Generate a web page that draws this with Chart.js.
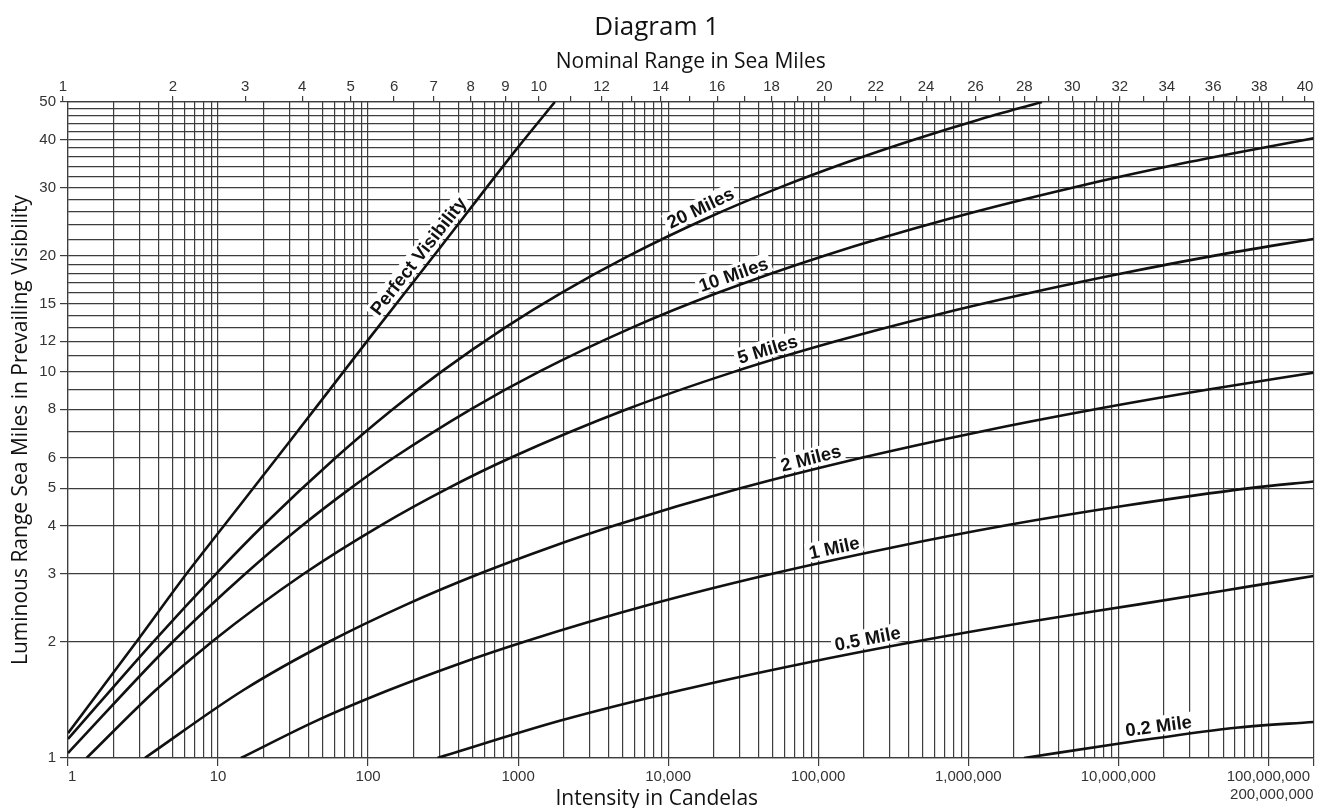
<!DOCTYPE html>
<html>
<head>
<meta charset="utf-8">
<title>Diagram 1</title>
<script src="https://cdn.jsdelivr.net/npm/chart.js@4.4.0/dist/chart.umd.min.js"></script>
<style>
  html, body { margin: 0; padding: 0; background: #fff; }
  #wrap { width: 1319px; height: 808px; }
</style>
</head>
<body>
<div id="wrap"><canvas id="chart"></canvas></div>
<script>
// luminous range curves, [intensity in candelas, luminous range in sea miles]
const perfectVisibility = [[1, 1.16], [2.86, 2], [6.16, 3], [10, 3.82], [30, 6.6], [100, 12.1], [300, 20.9], [1000, 38.2], [1757, 50]];
const miles20 = [[1, 1.12], [3.7, 2], [9.7, 3], [20, 4], [61, 6], [146, 8], [307, 10], [813, 13], [1930, 16], [5490, 20], [18100, 25], [55200, 30], [159000, 35], [439000, 40], [1175000, 45], [3100000, 50]];
const miles10 = [[1, 1.03], [5, 2], [15.2, 3], [36.4, 4], [76.7, 5], [149, 6], [483, 8], [1372, 10], [5690, 13], [21200, 16], [109800, 20], [767000, 25], [4940000, 30], [30100000, 35], [200000000, 40.3]];
const miles5 = [[1.33, 1], [3.85, 1.5], [9.1, 2], [37.3, 3], [121, 4], [343, 5], [899, 6], [5300, 8], [27400, 10], [131000, 12], [591000, 14], [2560000, 16], [10700000, 18], [43900000, 20], [200000000, 22.1]];
const miles2 = [[3.25, 1], [14.8, 1.5], [54.9, 2], [181, 2.5], [552, 3], [1590, 3.5], [4390, 4], [30700, 5], [198000, 6], [1200000, 7], [7020000, 8], [39800000, 9], [200000000, 9.95]];
const miles1 = [[14.2, 1], [45.5, 1.25], [138, 1.5], [397, 1.75], [1100, 2], [7670, 2.5], [49400, 3], [301000, 3.5], [1760000, 4], [11000000, 4.5], [75500000, 5], [200000000, 5.2]];
const miles05 = [[290, 1], [1920, 1.25], [12300, 1.5], [75200, 1.75], [439000, 2], [2490000, 2.25], [13700000, 2.5], [70000000, 2.77], [200000000, 2.96]];
const miles02 = [[2350000, 1], [11900000, 1.1], [63200000, 1.2], [200000000, 1.24]];

const series = [perfectVisibility, miles20, miles10, miles5, miles2, miles1, miles05, miles02];
const seriesNames = ['Perfect Visibility', '20 Miles', '10 Miles', '5 Miles', '2 Miles', '1 Mile', '0.5 Mile', '0.2 Mile'];
// candela value on each curve where its name is written
const labelAnchors = [250, 17800, 29000, 48400, 93500, 133000, 221000, 19000000];

const xMajorTicks = [1, 10, 100, 1000, 10000, 100000, 1000000, 10000000, 100000000, 200000000];
const xTickLabels = ['1', '10', '100', '1000', '10,000', '100,000', '1,000,000', '10,000,000', '100,000,000', '200,000,000'];
const yGridValues = [1, 2, 3, 4, 5, 6, 7, 8, 9, 10, 11, 12, 13, 14, 15, 16, 17, 18, 19, 20, 22, 24, 26, 28, 30, 32, 34, 36, 38, 40, 42, 44, 46, 48, 50];
const yTickLabels = [1, 2, 3, 4, 5, 6, 8, 10, 12, 15, 20, 30, 40, 50];
const nominalRanges = [1, 2, 3, 4, 5, 6, 7, 8, 9, 10, 11, 12, 13, 14, 15, 16, 17, 18, 19, 20, 21, 22, 23, 24, 25, 26, 27, 28, 29, 30, 31, 32, 33, 34, 35, 36, 37, 38, 39, 40];
const nominalLabels = [1, 2, 3, 4, 5, 6, 7, 8, 9, 10, 12, 14, 16, 18, 20, 22, 24, 26, 28, 30, 32, 34, 36, 38, 40];

// nominal range = luminous range when the meteorological visibility is 10 miles
function nominalToCandela(d) {
  return 0.686 * d * d * Math.pow(20, d / 10);
}

const GRID = '#3d3d3d';
const tickFont = { family: '"Liberation Sans", Arial, sans-serif', size: 15 };
const titleFamily = '"Open Sans", "Noto Sans", sans-serif';

const curveLabels = {
  id: 'curveLabels',
  afterDatasetsDraw(chart) {
    const ctx = chart.ctx;
    const xs = chart.scales.x, ys = chart.scales.y;
    ctx.save();
    ctx.font = 'bold 18.5px "Liberation Sans", Arial, sans-serif';
    ctx.textAlign = 'center';
    ctx.textBaseline = 'middle';
    labelAnchors.forEach((at, i) => {
      const pts = series[i];
      let k = 0;
      while (k < pts.length - 2 && pts[k + 1][0] < at) k++;
      const x0 = xs.getPixelForValue(pts[k][0]), y0 = ys.getPixelForValue(pts[k][1]);
      const x1 = xs.getPixelForValue(pts[k + 1][0]), y1 = ys.getPixelForValue(pts[k + 1][1]);
      const px = xs.getPixelForValue(at);
      const py = y0 + (px - x0) / (x1 - x0) * (y1 - y0);
      const w = ctx.measureText(seriesNames[i]).width;
      ctx.save();
      ctx.translate(px, py);
      ctx.rotate(Math.atan2(y1 - y0, x1 - x0));
      ctx.translate(0, -12);
      ctx.fillStyle = '#fff';
      ctx.fillRect(-w / 2 - 3, -10, w + 6, 19);
      ctx.fillStyle = '#111';
      ctx.fillText(seriesNames[i], 0, 1);
      ctx.restore();
    });
    ctx.restore();
  }
};

new Chart(document.getElementById('chart'), {
  type: 'line',
  data: {
    datasets: series.map((s, i) => ({
      label: seriesNames[i],
      data: s.map(p => ({ x: p[0], y: p[1] })),
      borderColor: '#111',
      borderWidth: 2.6,
      pointRadius: 0,
      cubicInterpolationMode: 'monotone',
      fill: false
    }))
  },
  options: {
    responsive: true,
    maintainAspectRatio: false,
    animation: false,
    layout: { padding: { right: 5.5 } },
    plugins: {
      legend: { display: false },
      tooltip: { enabled: false },
      title: {
        display: true,
        text: 'Diagram 1',
        color: '#111',
        font: { family: titleFamily, size: 26, weight: 'normal', lineHeight: 1.2 },
        padding: { top: 12, bottom: 0 }
      },
      // zero-height box: the text hangs into the bottom axis area
      subtitle: {
        display: true,
        position: 'bottom',
        text: 'Intensity in Candelas',
        color: '#111',
        font: { family: titleFamily, size: 21, weight: 'normal', lineHeight: 1 },
        padding: { top: -19, bottom: -2 }
      }
    },
    scales: {
      x: {
        type: 'logarithmic',
        position: 'bottom',
        min: 1,
        max: 200000000,
        afterBuildTicks(scale) {
          const t = [];
          for (let p = 0; p < 8; p++) {
            for (let m = 1; m < 10; m++) t.push({ value: m * Math.pow(10, p) });
          }
          t.push({ value: 100000000 }, { value: 200000000 });
          scale.ticks = t;
        },
        afterFit(scale) { scale.height = 50; },
        grid: {
          color: GRID,
          lineWidth: 1.2,
          tickLength: 8,
          tickColor: c => (c.tick && xMajorTicks.includes(c.tick.value)) ? GRID : 'rgba(0,0,0,0)'
        },
        border: { color: GRID, width: 1.2 },
        ticks: {
          autoSkip: false,
          maxRotation: 0,
          minRotation: 0,
          align: 'inner',
          padding: 2,
          color: '#333',
          font: Object.assign({ lineHeight: 1.2 }, tickFont),
          callback(value) {
            const i = xMajorTicks.indexOf(value);
            if (i < 0) return '';
            return value === 200000000 ? ['', xTickLabels[i]] : xTickLabels[i];
          }
        }
      },
      x2: {
        type: 'logarithmic',
        position: 'top',
        min: 1,
        max: 200000000,
        afterBuildTicks(scale) {
          scale.ticks = nominalRanges.map(d => ({ value: nominalToCandela(d) }));
        },
        afterFit(scale) { scale.height = 58.8; },
        title: {
          display: true,
          text: 'Nominal Range in Sea Miles',
          color: '#111',
          font: { family: titleFamily, size: 21, weight: 'normal', lineHeight: 1.2 },
          padding: { top: 6, bottom: 0 }
        },
        grid: { drawOnChartArea: false, color: GRID, lineWidth: 1.2, tickLength: 6 },
        border: { color: GRID, width: 1.2 },
        ticks: {
          autoSkip: false,
          maxRotation: 0,
          minRotation: 0,
          padding: 0,
          color: '#333',
          font: tickFont,
          callback(value, index) {
            const d = nominalRanges[index];
            return nominalLabels.includes(d) ? String(d) : '';
          }
        }
      },
      y: {
        type: 'logarithmic',
        position: 'left',
        min: 1,
        max: 50,
        afterBuildTicks(scale) {
          scale.ticks = yGridValues.map(v => ({ value: v }));
        },
        afterFit(scale) { scale.width = 68; },
        title: {
          display: true,
          text: 'Luminous Range Sea Miles in Prevailing Visibility',
          color: '#111',
          font: { family: titleFamily, size: 21, weight: 'normal', lineHeight: 1.2 },
          padding: { top: 8, bottom: 0 }
        },
        grid: {
          color: GRID,
          lineWidth: 1.2,
          tickLength: 8,
          tickColor: c => (c.tick && yTickLabels.includes(c.tick.value)) ? GRID : 'rgba(0,0,0,0)'
        },
        border: { color: GRID, width: 1.2 },
        ticks: {
          autoSkip: false,
          padding: 4,
          color: '#333',
          font: tickFont,
          callback(value) {
            return yTickLabels.includes(value) ? String(value) : '';
          }
        }
      }
    }
  },
  plugins: [curveLabels]
});
</script>
</body>
</html>
